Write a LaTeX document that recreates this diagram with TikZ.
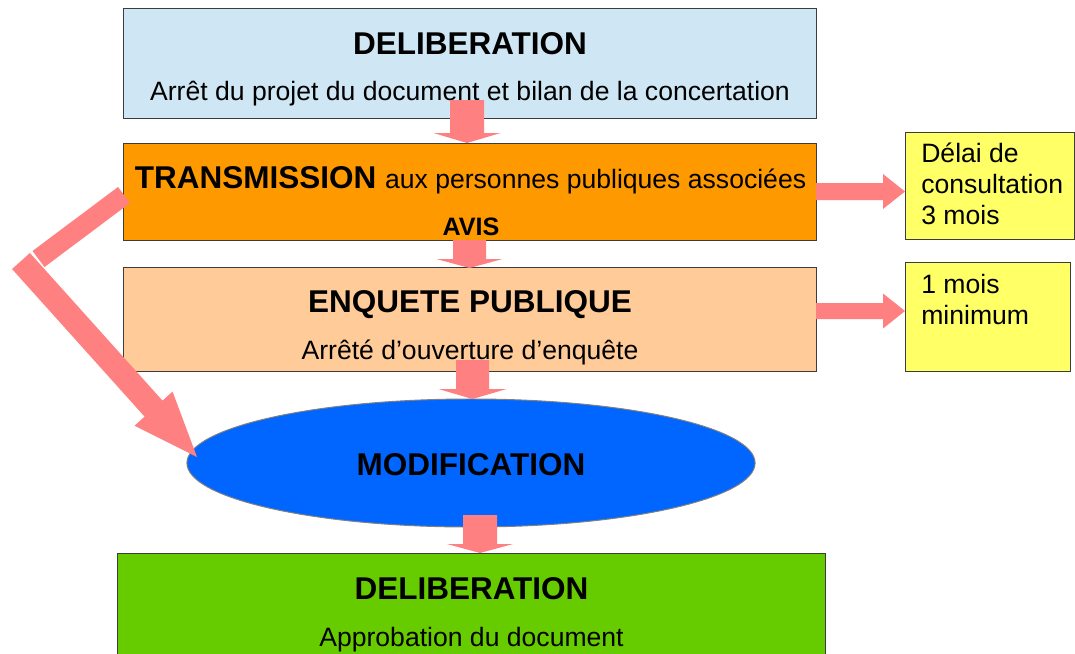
\documentclass[tikz,border=0pt]{standalone}
\usepackage{fontspec}
\setmainfont{Liberation Sans}
\usetikzlibrary{calc,shapes.geometric}
\definecolor{boxblue}{RGB}{207,231,245}
\definecolor{boxorange}{RGB}{255,153,0}
\definecolor{boxpeach}{RGB}{255,204,153}
\definecolor{ellblue}{RGB}{0,102,255}
\definecolor{boxgreen}{RGB}{102,204,0}
\definecolor{boxyellow}{RGB}{255,255,102}
\definecolor{arrowpink}{RGB}{255,128,128}
\definecolor{edgegray}{RGB}{60,60,60}
\newcommand\bigfont{\fontsize{22.4}{26}\selectfont\bfseries}
\newcommand\regfont{\fontsize{18.9}{21.7}\selectfont}
\newcommand\blockarrow[5]{%
  \coordinate (ba-b) at ($(#2)!#5!(#1)$);
  \fill[arrowpink] ($(#1)!#3!90:(#2)$) -- ($(ba-b)!#3!-90:(#1)$) -- ($(ba-b)!#4!-90:(#1)$) -- (#2)
    -- ($(ba-b)!#4!90:(#1)$) -- ($(ba-b)!#3!90:(#1)$) -- ($(#1)!#3!-90:(#2)$) -- cycle;
}
\tikzset{
  stagebox/.style={draw=edgegray, line width=0.7pt, rectangle, inner sep=0pt},
  titletext/.style={anchor=base, inner sep=0pt, font=\bigfont},
  subtext/.style={anchor=base, inner sep=0pt, font=\regfont},
  notetext/.style={anchor=base west, inner sep=0pt, align=left, font=\regfont},
}
\begin{document}
\begin{tikzpicture}[x=0.025cm, y=-0.025cm]
\clip (0,0) rectangle (1075,653);
\fill[white] (0,0) rectangle (1075,653);

% boxes
\node[stagebox, fill=boxblue, minimum width=17.3cm, minimum height=2.725cm] (b1) at (470,63.5) {};
\node[stagebox, fill=boxorange, minimum width=17.3cm, minimum height=2.425cm] (b2) at (470,191.5) {};
\node[stagebox, fill=boxpeach, minimum width=17.3cm, minimum height=2.6cm] (b3) at (470,319) {};
\node[draw=gray, line width=0.7pt, ellipse, fill=ellblue, minimum width=14.2cm, minimum height=3.2cm, inner sep=0pt] (ell) at (471,463) {};
\node[stagebox, fill=boxgreen, minimum width=17.675cm, minimum height=2.925cm] (b5) at (471.5,611.5) {};
\node[stagebox, fill=boxyellow, minimum width=4.225cm, minimum height=2.675cm] (ya) at (989.5,185.5) {};
\node[stagebox, fill=boxyellow, minimum width=4.125cm, minimum height=2.725cm] (yb) at (987.5,316.5) {};

% texts
\node[titletext] (t1a) at (470,54.5) {DELIBERATION};
\node[subtext] (t1b) at (470,100) {Arrêt du projet du document et bilan de la concertation};
\node[anchor=base, inner sep=0pt] (t2a) at (470.5,188) {{\bigfont TRANSMISSION }{\regfont aux personnes publiques associées}};
\node[anchor=base, inner sep=0pt, font=\fontsize{17.9}{21}\selectfont\bfseries] (t2b) at (471,235) {AVIS};
\node[titletext] (t3a) at (470,312) {ENQUETE PUBLIQUE};
\node[subtext] (t3b) at (470,359) {Arrêté d’ouverture d’enquête};
\node[titletext] (t4) at (471,475) {MODIFICATION};
\node[titletext] (t5a) at (471.5,599) {DELIBERATION};
\node[subtext] (t5b) at (471.5,646) {Approbation du document};
\node[notetext] (tya) at (921,224) {Délai de\\consultation\\3 mois};
\node[notetext] (tyb) at (921,324) {1 mois\\minimum};

% arrow end points
\coordinate (a1s) at (467,100);   \coordinate (a1e) at (467,143);
\coordinate (a2s) at (469.5,240); \coordinate (a2e) at (469.5,268);
\coordinate (a3s) at (472.5,360); \coordinate (a3e) at (472.5,399);
\coordinate (a4s) at (480,515);   \coordinate (a4e) at (480,553);
\coordinate (ras) at (816,191.5); \coordinate (rae) at (905,191.5);
\coordinate (rbs) at (816,311);   \coordinate (rbe) at (905,311);
\coordinate (l1s) at (124,195);   \coordinate (l1e) at (38.5,259);
\coordinate (l2s) at (21,261);    \coordinate (l2e) at (197,457);

% arrows
\blockarrow{a1s}{a1e}{0.425cm}{0.8375cm}{0.25cm}
\blockarrow{a2s}{a2e}{0.4125cm}{0.825cm}{0.225cm}
\blockarrow{a3s}{a3e}{0.4125cm}{0.85cm}{0.25cm}
\blockarrow{a4s}{a4e}{0.425cm}{0.825cm}{0.225cm}
\blockarrow{ras}{rae}{0.2125cm}{0.4375cm}{0.55cm}
\blockarrow{rbs}{rbe}{0.2cm}{0.4375cm}{0.55cm}
\draw[arrowpink, line width=0.5cm] (l1s) -- (l1e);
\blockarrow{l2s}{l2e}{0.3cm}{0.6375cm}{1.625cm}
\end{tikzpicture}
\end{document}
